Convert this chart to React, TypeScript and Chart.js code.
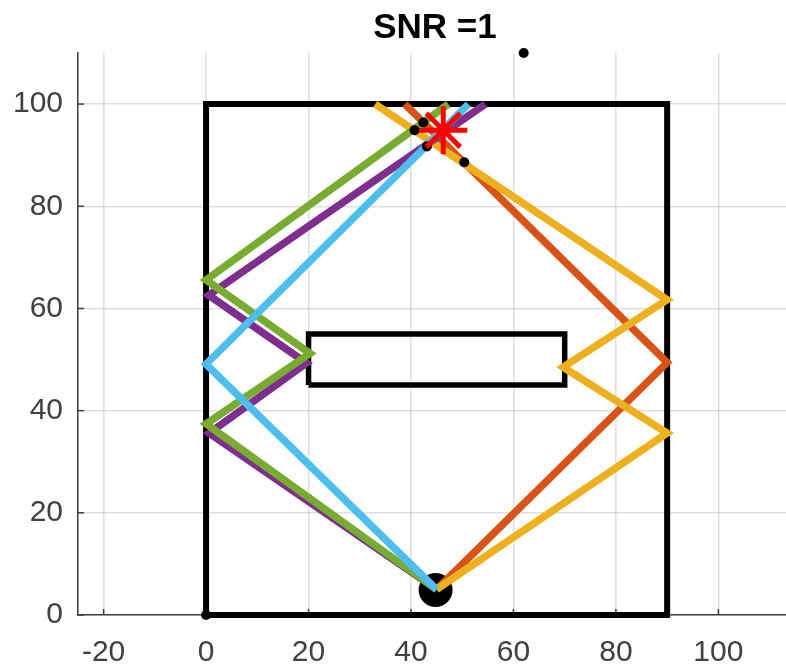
import React, { useEffect, useRef } from 'react';
import { Chart, registerables } from 'chart.js';

Chart.register(...registerables);

const titleText = 'SNR =1';
const xTicks = [-20, 0, 20, 40, 60, 80, 100];
const yTicks = [0, 20, 40, 60, 80, 100];

const boxX = [0, 90, 90, 0, 0];
const boxY = [0, 0, 100, 100, 0];
const innerX = [20, 70, 70, 20, 20];
const innerY = [45, 45, 55, 55, 45];

const redX = [45, 90, 38.8];
const redY = [5, 49.4, 100];
const yellowX = [45, 90, 69.7, 90, 33];
const yellowY = [5, 35.6, 48.5, 61.7, 100];
const purpleX = [45, 0.6, 19.6, 0.5, 54.5];
const purpleY = [5, 35.6, 49.3, 62.6, 100];
const greenX = [45, 0, 20.3, 0, 47.3];
const greenY = [5, 37.4, 51.2, 65.6, 100];
const cyanX = [45, 0, 51.2];
const cyanY = [5, 49.1, 100];

const sourceX = [44.8];
const sourceY = [4.9];
const targetX = [46.3];
const targetY = [94.9];
const dotX = [0, 62, 42.4, 40.7, 43.1, 50.4];
const dotY = [0, 110, 96.4, 94.9, 91.7, 88.6];

const FONT = '"Liberation Sans", Arial, Helvetica, sans-serif';

const pts = (xs: number[], ys: number[]) => xs.map((x, i) => ({ x, y: ys[i] }));

const lineDs = (label: string, xs: number[], ys: number[], color: string, width: number, order: number) => ({
  label,
  data: pts(xs, ys),
  showLine: true,
  borderColor: color,
  backgroundColor: color,
  borderWidth: width,
  pointRadius: 0,
  pointHoverRadius: 0,
  borderJoinStyle: 'miter' as const,
  borderCapStyle: 'butt' as const,
  tension: 0,
  order,
});

const zeroPad = (s: any) => {
  s.paddingLeft = 0;
  s.paddingRight = 0;
  s.paddingTop = 0;
  s.paddingBottom = 0;
};

const overlay = {
  id: 'overlay',
  beforeDatasetsDraw(chart: any) {
    const { ctx, chartArea, scales } = chart;
    ctx.save();
    ctx.strokeStyle = '#404040';
    ctx.lineWidth = 1.5;
    xTicks.forEach((v) => {
      const px = scales.x.getPixelForValue(v);
      ctx.beginPath();
      ctx.moveTo(px, chartArea.bottom);
      ctx.lineTo(px, chartArea.bottom - 6);
      ctx.stroke();
    });
    yTicks.forEach((v) => {
      const py = scales.y.getPixelForValue(v);
      ctx.beginPath();
      ctx.moveTo(chartArea.left, py);
      ctx.lineTo(chartArea.left + 6, py);
      ctx.stroke();
    });
    ctx.restore();
  },
  afterDraw(chart: any) {
    const { ctx, chartArea } = chart;
    ctx.save();
    ctx.fillStyle = '#000000';
    ctx.font = `bold 35px ${FONT}`;
    ctx.textAlign = 'center';
    ctx.textBaseline = 'alphabetic';
    ctx.fillText(titleText, (chartArea.left + chartArea.right) / 2 + 3, 38);
    ctx.restore();
  },
};

export default function App() {
  const canvasRef = useRef<HTMLCanvasElement | null>(null);

  useEffect(() => {
    if (!canvasRef.current) return;
    const gridColor = 'rgba(38,38,38,0.15)';
    const chart = new Chart(canvasRef.current, {
      type: 'scatter',
      data: {
        datasets: [
          {
            label: 'target',
            data: pts(targetX, targetY),
            showLine: false,
            pointStyle: 'star',
            pointRadius: 24,
            pointBorderWidth: 5,
            borderColor: '#FF0000',
            backgroundColor: '#FF0000',
            order: 0,
            clip: false,
          } as any,
          {
            label: 'dots',
            data: pts(dotX, dotY),
            showLine: false,
            pointRadius: 5,
            pointBorderWidth: 0,
            borderColor: '#000000',
            backgroundColor: '#000000',
            order: 1,
            clip: false,
          } as any,
          lineDs('cyan', cyanX, cyanY, '#4DBEEE', 7.5, 2),
          lineDs('green', greenX, greenY, '#77AC30', 7.5, 3),
          lineDs('purple', purpleX, purpleY, '#7E2F8E', 7.5, 4),
          lineDs('yellow', yellowX, yellowY, '#EDB120', 7.5, 5),
          lineDs('red', redX, redY, '#D95319', 7.5, 6),
          {
            label: 'source',
            data: pts(sourceX, sourceY),
            showLine: false,
            pointRadius: 17,
            pointBorderWidth: 0,
            borderColor: '#000000',
            backgroundColor: '#000000',
            order: 7,
            clip: false,
          } as any,
          { ...lineDs('inner', innerX, innerY, '#000000', 5.5, 8), clip: false } as any,
          { ...lineDs('box', boxX, boxY, '#000000', 6, 9), clip: false } as any,
        ],
      },
      options: {
        animation: false,
        responsive: false,
        devicePixelRatio: 1,
        layout: { autoPadding: false, padding: { top: 53, left: 0, right: 0, bottom: 0 } },
        plugins: {
          legend: { display: false },
          tooltip: { enabled: false },
          title: { display: false },
        },
        events: [],
        scales: {
          x: {
            type: 'linear',
            min: -25,
            max: 113.2,
            afterBuildTicks: (s: any) => {
              s.ticks = xTicks.map((v) => ({ value: v }));
            },
            afterFit: (s: any) => {
              s.height = 54;
              zeroPad(s);
            },
            grid: { color: gridColor, lineWidth: 1.5, drawTicks: false },
            border: { color: '#404040', width: 1.5 },
            ticks: {
              font: { family: FONT, size: 30 },
              color: '#404040',
              padding: 20,
              maxRotation: 0,
              autoSkip: false,
            },
          },
          y: {
            type: 'linear',
            min: 0,
            max: 110,
            afterBuildTicks: (s: any) => {
              s.ticks = yTicks.map((v) => ({ value: v }));
            },
            afterFit: (s: any) => {
              s.width = 78;
              zeroPad(s);
            },
            grid: { color: gridColor, lineWidth: 1.5, drawTicks: false },
            border: { color: '#404040', width: 1.5 },
            ticks: {
              font: { family: FONT, size: 30 },
              color: '#404040',
              padding: 15,
              autoSkip: false,
            },
          },
        },
      } as any,
      plugins: [overlay],
    });
    return () => chart.destroy();
  }, []);

  return (
    <div style={{ position: 'absolute', left: 0, top: 0, width: 786, height: 669, background: '#ffffff' }}>
      <canvas ref={canvasRef} width={786} height={669} style={{ display: 'block' }} />
    </div>
  );
}
